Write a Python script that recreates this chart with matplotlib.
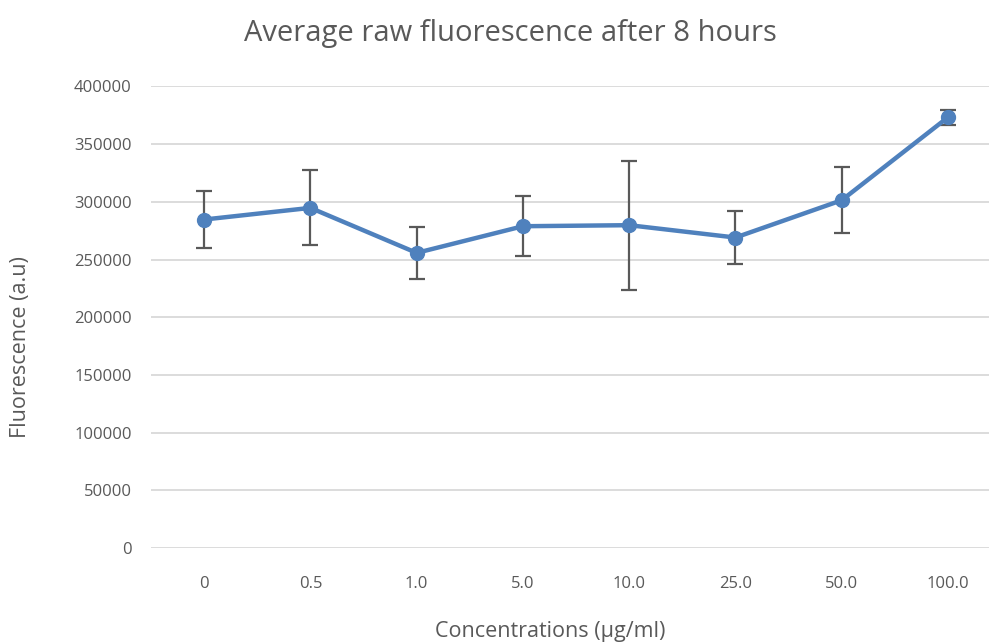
import numpy as np
import matplotlib.pyplot as plt

# ==============================
# Data
# ==============================

concentrations = ["0", "0.5", "1.0", "5.0", "10.0", "25.0", "50.0", "100.0"]
fluorescence = [284700, 294800, 255800, 278900, 279800, 269100, 301400, 373300]
errors = [25000, 32500, 22800, 26000, 56000, 23000, 28500, 6700]
y_ticks = [0, 50000, 100000, 150000, 200000, 250000, 300000, 350000, 400000]

text_color = "#595959"
line_color = "#4F81BD"
grid_color = "#D9D9D9"

plt.rcParams["font.family"] = ["Open Sans", "DejaVu Sans"]

fig = plt.figure(figsize=(9.89, 6.44), dpi=100)
ax = fig.add_axes([0.1527, 0.149, 0.8595, 0.7167])

x = np.arange(len(concentrations))

ax.errorbar(
    x, fluorescence, yerr=errors,
    color=line_color, linewidth=3.2,
    marker="o", markersize=10,
    ecolor=text_color, elinewidth=1.6, capsize=6, capthick=1.6,
    zorder=3
)

ax.set_xlim(-0.5, len(concentrations) - 0.5)
ax.set_ylim(0, 400000)
ax.set_xticks(x)
ax.set_xticklabels(concentrations)
ax.set_yticks(y_ticks)
ax.set_yticklabels([str(v) for v in y_ticks])

ax.grid(axis="y", color=grid_color, linewidth=1.3)
ax.set_axisbelow(True)
for side in ["top", "right", "left", "bottom"]:
    ax.spines[side].set_visible(False)

ax.tick_params(axis="both", length=0, labelsize=12, colors=text_color)
ax.tick_params(axis="x", pad=20)
ax.tick_params(axis="y", pad=14)

# axis titles and chart title placed in figure coordinates
fig.text(550 / 989, 1 - 632 / 644, "Concentrations (µg/ml)",
         ha="center", va="center", fontsize=15.5, color=text_color)
fig.text(21 / 989, 1 - 347 / 644, "Fluorescence (a.u)", rotation=90,
         ha="center", va="center", fontsize=15.5, color=text_color)
fig.text(510 / 989, 1 - 33 / 644, "Average raw fluorescence after 8 hours",
         ha="center", va="center", fontsize=21, color=text_color)

fig.savefig("out.png", dpi=100)
